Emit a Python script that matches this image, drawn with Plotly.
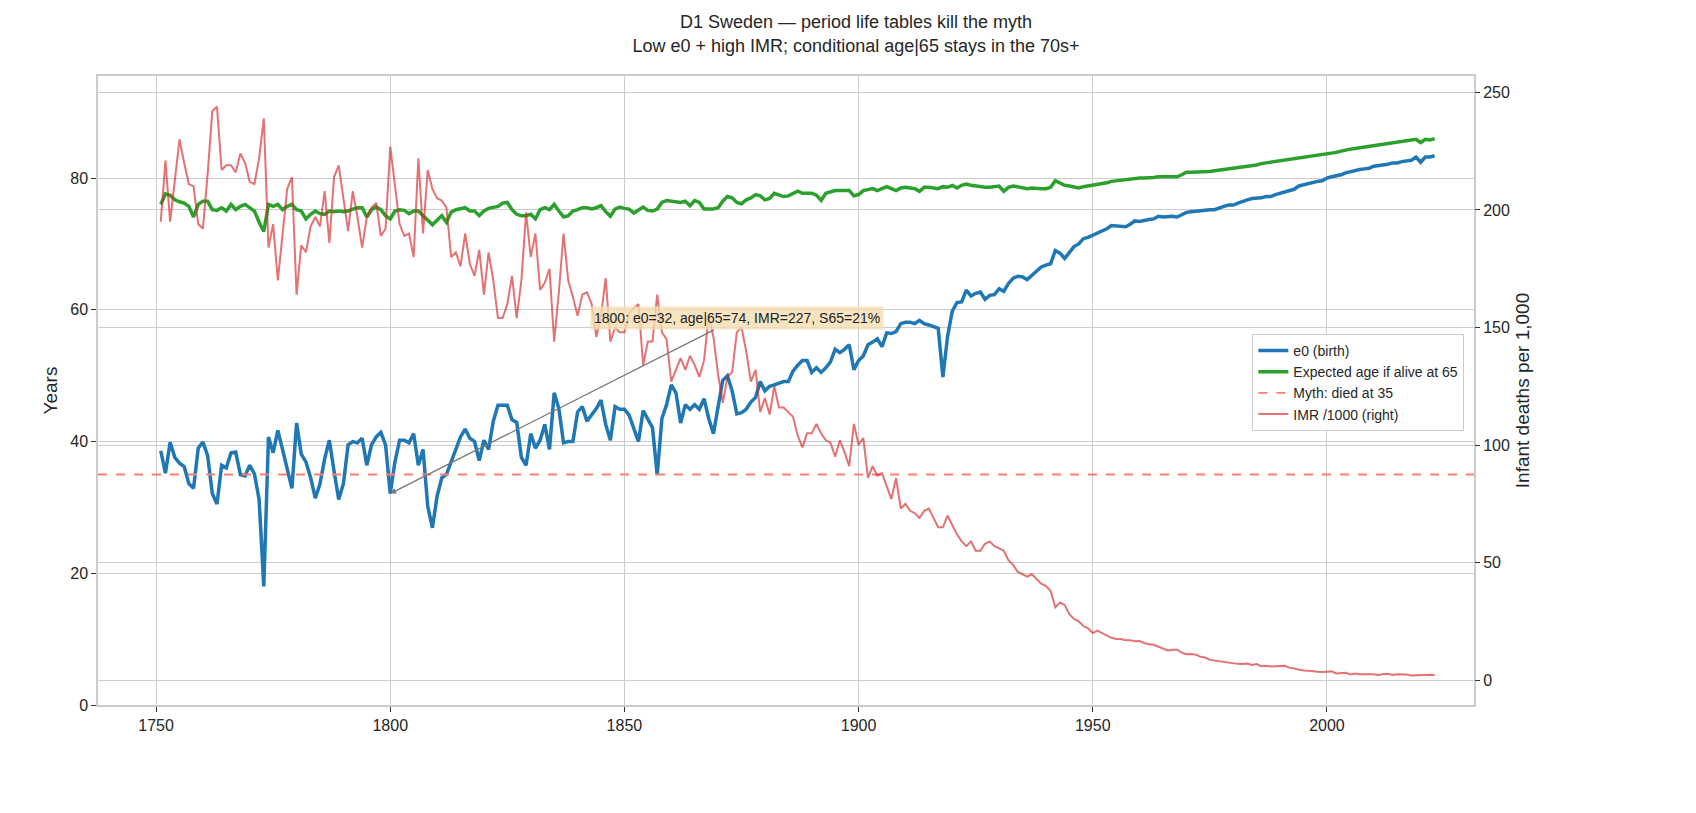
import plotly.graph_objects as go

years = list(range(1751, 2024))

e0 = [
    38.6, 35.2, 39.9, 37.6, 36.7, 36.2, 33.6, 32.9, 39.0, 39.9,
    37.9, 32.1, 30.5, 36.4, 36.0, 38.3, 38.4, 35.0, 34.8, 36.4,
    35.1, 31.2, 18.0, 40.7, 38.3, 41.7, 38.8, 36.0, 32.9, 42.8,
    38.1, 36.9, 34.5, 31.4, 33.6, 37.4, 40.2, 35.5, 31.2, 33.6,
    39.5, 40.0, 39.8, 40.5, 36.4, 39.5, 40.7, 41.4, 39.5, 32.1,
    36.9, 40.2, 40.2, 39.8, 41.2, 36.4, 38.8, 30.2, 26.9, 31.7,
    34.5, 35.0, 36.9, 38.8, 40.7, 41.9, 40.5, 40.0, 37.1, 40.2,
    38.8, 43.1, 45.5, 45.5, 45.5, 43.3, 42.9, 37.6, 36.4, 41.2,
    39.0, 40.2, 42.6, 38.8, 47.4, 45.0, 39.8, 40.0, 40.0, 44.5,
    45.3, 43.1, 44.0, 45.0, 46.3, 42.6, 40.2, 45.3, 44.9, 44.9,
    44.0, 42.1, 40.0, 44.7, 43.5, 42.1, 34.9, 43.5, 45.6, 48.6,
    47.4, 42.8, 45.6, 44.9, 45.6, 44.9, 46.5, 43.5, 41.2, 45.1,
    49.3, 50.0, 47.7, 44.2, 44.4, 44.9, 46.0, 46.7, 49.1, 47.7,
    48.4, 48.6, 48.8, 49.1, 49.1, 50.7, 51.6, 52.3, 52.3, 50.5,
    51.2, 50.5, 51.2, 52.1, 54.0, 53.5, 54.0, 54.7, 50.9, 52.3,
    53.0, 54.7, 55.1, 55.6, 54.4, 56.5, 56.4, 56.7, 57.9, 58.1,
    58.1, 57.9, 58.4, 57.9, 57.7, 57.4, 57.2, 49.8, 56.0, 59.8,
    61.1, 61.2, 63.0, 62.1, 62.5, 62.7, 61.6, 62.2, 62.3, 63.2,
    62.8, 64.0, 64.8, 65.1, 65.0, 64.6, 65.2, 65.8, 66.5, 66.8,
    67.0, 69.0, 68.6, 67.8, 68.6, 69.6, 70.0, 70.8, 71.0, 71.3,
    71.6, 71.9, 72.3, 72.8, 72.7, 72.6, 72.6, 73.0, 73.5, 73.4,
    73.6, 73.7, 73.8, 74.2, 74.1, 74.2, 74.2, 74.1, 74.4, 74.8,
    74.9, 75.0, 75.1, 75.1, 75.2, 75.2, 75.5, 75.7, 75.9, 75.9,
    76.2, 76.5, 76.7, 76.9, 76.9, 77.0, 77.2, 77.2, 77.5, 77.7,
    77.9, 78.2, 78.3, 78.8, 79.0, 79.2, 79.4, 79.5, 79.6, 80.0,
    80.2, 80.3, 80.5, 80.8, 81.0, 81.2, 81.3, 81.4, 81.5, 81.8,
    81.9, 81.9, 82.1, 82.3, 82.3, 82.5, 82.6, 82.7, 83.2, 82.4,
    83.2, 83.2, 83.4,
]

age_if_65 = [
    76.0, 77.6, 77.4, 76.7, 76.4, 76.2, 75.7, 74.1, 76.0, 76.5,
    76.5, 75.2, 75.1, 75.5, 75.0, 76.0, 75.2, 75.7, 76.0, 75.5,
    75.0, 73.3, 71.9, 76.0, 75.7, 76.0, 75.2, 75.7, 76.0, 75.2,
    75.0, 73.8, 74.5, 75.0, 74.6, 74.5, 75.0, 74.9, 75.0, 74.9,
    75.0, 75.3, 75.5, 75.5, 74.1, 75.2, 75.6, 75.2, 74.3, 73.8,
    75.0, 75.2, 75.1, 74.6, 75.0, 75.0, 74.3, 73.6, 72.9, 73.6,
    74.3, 73.3, 74.8, 75.2, 75.3, 75.5, 75.0, 75.0, 74.3, 75.0,
    75.4, 75.5, 75.7, 76.2, 76.3, 75.2, 74.5, 74.3, 74.3, 74.5,
    73.8, 75.2, 75.5, 75.2, 76.0, 75.0, 74.1, 74.3, 75.0, 75.2,
    75.5, 75.5, 75.3, 75.5, 75.8, 74.9, 74.2, 75.3, 75.6, 75.4,
    75.3, 74.7, 75.2, 75.6, 75.1, 75.0, 75.3, 76.3, 76.6, 76.5,
    76.5, 76.3, 76.5, 75.8, 76.6, 76.3, 75.3, 75.3, 75.3, 75.5,
    76.5, 77.2, 77.0, 76.3, 76.1, 76.7, 77.0, 77.5, 77.3, 76.7,
    76.9, 77.7, 77.4, 77.2, 77.3, 77.7, 78.0, 77.7, 77.7, 77.7,
    77.4, 76.6, 77.7, 77.9, 78.1, 78.1, 78.1, 78.1, 77.3, 77.5,
    78.1, 78.3, 78.4, 78.1, 78.4, 78.7, 78.4, 78.1, 78.5, 78.6,
    78.5, 78.4, 78.0, 78.6, 78.6, 78.5, 78.4, 78.7, 78.6, 78.9,
    78.5, 78.9, 79.1, 78.9, 78.8, 78.6, 78.6, 78.6, 78.7, 78.8,
    78.0, 78.6, 78.8, 78.7, 78.6, 78.4, 78.5, 78.4, 78.4, 78.4,
    78.6, 79.6, 79.3, 78.9, 78.8, 78.7, 78.5, 78.7, 78.8, 78.9,
    79.0, 79.2, 79.3, 79.5, 79.6, 79.7, 79.7, 79.8, 79.9, 80.0,
    80.0, 80.0, 80.1, 80.2, 80.2, 80.2, 80.2, 80.2, 80.5, 80.9,
    80.9, 80.9, 81.0, 81.0, 81.0, 81.1, 81.2, 81.3, 81.3, 81.5,
    81.6, 81.7, 81.8, 81.9, 82.0, 82.2, 82.3, 82.4, 82.5, 82.7,
    82.8, 82.9, 83.0, 83.1, 83.2, 83.3, 83.4, 83.5, 83.6, 83.7,
    83.8, 83.9, 84.1, 84.3, 84.4, 84.5, 84.6, 84.7, 84.8, 84.9,
    85.0, 85.1, 85.2, 85.3, 85.4, 85.5, 85.6, 85.7, 85.9, 85.4,
    85.9, 85.8, 86.0,
]

imr = [
    195, 221, 195, 212, 230, 220, 211, 210, 194, 192,
    215, 242, 244, 217, 219, 219, 216, 224, 220, 212,
    211, 222, 239, 184, 194, 170, 190, 209, 214, 164,
    185, 182, 193, 197, 193, 208, 186, 214, 219, 205,
    191, 208, 197, 184, 197, 201, 203, 189, 192, 227,
    211, 194, 189, 190, 180, 222, 190, 217, 209, 205,
    204, 201, 180, 182, 176, 190, 177, 172, 183, 164,
    182, 170, 154, 154, 160, 172, 154, 170, 199, 180,
    190, 166, 169, 175, 144, 165, 190, 170, 163, 155,
    164, 165, 160, 146, 155, 171, 144, 150, 148, 148,
    156, 158, 160, 134, 144, 144, 164, 148, 145, 127,
    132, 137, 132, 138, 134, 129, 136, 155, 146, 130,
    118, 129, 131, 148, 150, 140, 127, 132, 114, 120,
    113, 125, 116, 116, 114, 112, 104, 99, 105, 105,
    109, 105, 102, 101, 95, 102, 97, 91, 109, 100,
    103, 86, 91, 87, 88, 82, 77, 86, 73, 75,
    72, 71, 69, 72, 73, 69, 65, 65, 70, 66,
    62, 59, 57, 59, 55, 55, 58, 59, 57, 56,
    55, 51, 49, 46, 45, 44, 45, 43, 41, 40,
    38, 31, 33, 32, 28, 26, 25, 23, 22, 20,
    21, 20, 19, 18, 17.5, 17.5, 17, 17, 16.5, 16.6,
    15.8, 15.2, 15.0, 14.2, 13.3, 12.6, 12.9, 12.9, 11.7, 11.0,
    11.1, 10.8, 9.9, 9.6, 8.6, 8.3, 8.0, 7.7, 7.5, 6.9,
    6.9, 6.8, 7.0, 6.4, 6.8, 5.9, 6.1, 5.8, 5.8, 6.0,
    6.1, 5.3, 4.8, 4.4, 4.1, 4.0, 3.6, 3.5, 3.4, 3.4,
    3.7, 2.8, 3.1, 3.1, 2.4, 2.8, 2.5, 2.5, 2.5, 2.5,
    2.1, 2.6, 2.7, 2.2, 2.5, 2.5, 2.4, 2.0, 2.1, 2.4,
    2.2, 2.3, 2.2,
]

myth_age = 35
note_year = 1800
note_text = "1800: e0=32, age|65=74, IMR=227, S65=21%"

GRID = "#cccccc"
FONT = "Liberation Sans, Arial, sans-serif"

fig = go.Figure()
fig.add_trace(go.Scatter(
    x=years, y=e0, mode="lines", name="e0 (birth)",
    line=dict(color="#1f77b4", width=3.5),
))
fig.add_trace(go.Scatter(
    x=years, y=age_if_65, mode="lines", name="Expected age if alive at 65",
    line=dict(color="#2ca02c", width=3.5),
))
fig.add_trace(go.Scatter(
    x=[1737.6, 2031.4], y=[myth_age, myth_age], mode="lines",
    name="Myth: died at 35",
    line=dict(color="#fa8072", width=1.8, dash="dash"),
))
fig.add_trace(go.Scatter(
    x=years, y=imr, mode="lines", name="IMR /1000 (right)", yaxis="y2",
    line=dict(color="rgba(214,39,40,0.65)", width=2),
))

fig.add_annotation(
    x=note_year, y=e0[years.index(note_year)], xref="x", yref="y",
    ax=1874, ay=58.7, axref="x", ayref="y",
    text=note_text, showarrow=True, arrowhead=2, arrowsize=1,
    arrowwidth=1.2, arrowcolor="#777777",
    bgcolor="rgba(245,222,179,0.8)", borderpad=3,
    font=dict(size=14, color="#222222", family=FONT),
)

fig.update_layout(
    width=1696, height=813,
    margin=dict(l=90, r=230, t=68, b=116),
    paper_bgcolor="white", plot_bgcolor="white",
    font=dict(family=FONT, size=16, color="#262626"),
    title=dict(
        text="D1 Sweden — period life tables kill the myth<br>"
             "Low e0 + high IMR; conditional age|65 stays in the 70s+",
        x=0.5, xanchor="center", y=0.975, font=dict(size=18),
    ),
    xaxis=dict(
        range=[1737.6, 2031.4], tickvals=[1750, 1800, 1850, 1900, 1950, 2000],
        showgrid=True, gridcolor=GRID, gridwidth=1.3, zeroline=False,
        showline=True, linecolor=GRID, linewidth=1.5, mirror=True,
        ticks="outside", ticklen=5, tickcolor="#333333",
    ),
    yaxis=dict(
        title=dict(text="Years", standoff=8), range=[0, 95.5],
        tickvals=[0, 20, 40, 60, 80],
        showgrid=True, gridcolor=GRID, gridwidth=1.3, zeroline=False,
        showline=True, linecolor=GRID, linewidth=1.5, mirror=True,
        ticks="outside", ticklen=5, tickcolor="#333333",
    ),
    yaxis2=dict(
        title=dict(text="Infant deaths per 1,000", standoff=6),
        overlaying="y", side="right", range=[-10.6, 257],
        tickvals=[0, 50, 100, 150, 200, 250],
        showgrid=True, gridcolor=GRID, gridwidth=1.3, zeroline=False,
        ticks="outside", ticklen=5, tickcolor="#333333",
    ),
    legend=dict(
        x=0.993, y=0.59, xanchor="right", yanchor="top",
        bgcolor="rgba(255,255,255,0.85)", bordercolor="#cccccc", borderwidth=1,
        font=dict(size=14),
    ),
    showlegend=True,
)

fig.write_html("out.html")
